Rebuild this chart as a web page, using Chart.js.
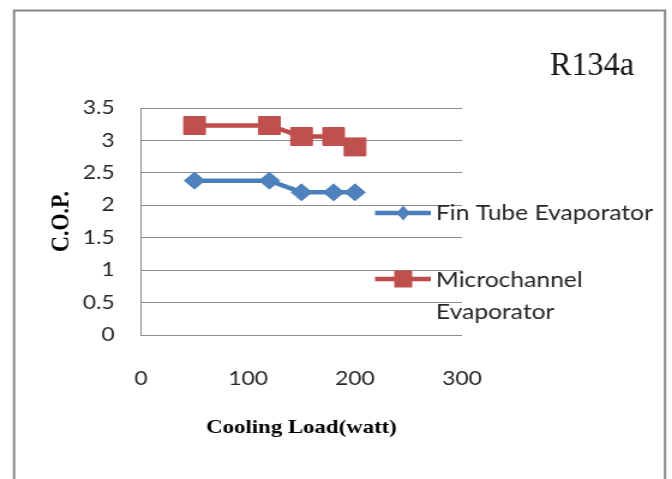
<!DOCTYPE html>
<html>
<head>
<meta charset="utf-8">
<script src="https://cdn.jsdelivr.net/npm/chart.js@4"></script>
<style>
html,body{margin:0;padding:0;background:#fff;overflow:hidden;}
#wrap{width:672px;height:479px;overflow:hidden;}
#c{transform:scaleX(1.2);transform-origin:0 0;display:block;}
</style>
</head>
<body>
<div id="wrap"><canvas id="c" width="560" height="479"></canvas></div>
<script>
// ---- data ----
const coolingLoad = [50, 120, 150, 180, 200];
const finTubeCOP = [2.38, 2.38, 2.2, 2.2, 2.2];
const microchannelCOP = [3.23, 3.23, 3.06, 3.06, 2.9];
const seriesLabels = ['Fin Tube Evaporator', 'Microchannel Evaporator'];
const legendLines = [['Fin Tube Evaporator'], ['Microchannel', 'Evaporator']];
const chartTitle = 'R134a';
const xTitle = 'Cooling Load(watt)';
const yTitle = 'C.O.P.';
const xRange = [0, 300, 100];
const yRange = [0, 3.5, 0.5];

const BLUE_LINE = '#4a7ebb', BLUE_FILL = '#4f81bd';
const RED_LINE = '#be4b48', RED_FILL = '#c0504d';
const GRID = '#8c8c8c';

const toPts = (xs, ys) => xs.map((x, i) => ({x, y: ys[i]}));

const extras = {
  id: 'extras',
  beforeDraw(chart) {
    const ctx = chart.ctx;
    ctx.save();
    ctx.fillStyle = '#fff';
    ctx.fillRect(0, 0, chart.width, chart.height);
    ctx.strokeStyle = '#878787';
    ctx.lineWidth = 2;
    ctx.strokeRect(11.7, 10.5, 542.5, 520);
    ctx.restore();
  },
  afterDraw(chart) {
    const ctx = chart.ctx;
    ctx.save();
    // title
    ctx.font = '34px "Liberation Serif", "Times New Roman", serif';
    ctx.fillStyle = '#111';
    ctx.textBaseline = 'alphabetic';
    const w = ctx.measureText(chartTitle).width;
    ctx.translate(458.3, 75);
    ctx.scale(70 / w, 1);
    ctx.fillText(chartTitle, 0, 0);
    ctx.restore();

    // legend
    ctx.save();
    const ds = chart.data.datasets;
    const rows = [{y: 213, base: [220]}, {y: 279, base: [286.7, 319.3]}];
    ds.forEach((d, i) => {
      const r = rows[i];
      ctx.strokeStyle = d.borderColor;
      ctx.lineWidth = 4.5;
      ctx.beginPath();
      ctx.moveTo(312.5, r.y);
      ctx.lineTo(359, r.y);
      ctx.stroke();
      ctx.fillStyle = d.pointBackgroundColor;
      ctx.beginPath();
      if (d.pointStyle === 'rectRot') {
        ctx.moveTo(336, r.y - 7.5);
        ctx.lineTo(341.5, r.y);
        ctx.lineTo(336, r.y + 7.5);
        ctx.lineTo(330.5, r.y);
        ctx.closePath();
      } else {
        ctx.rect(336 - 7.5, r.y - 8.5, 15, 17);
      }
      ctx.fill();
      ctx.fillStyle = '#262626';
      ctx.font = '20.5px Lato, "Open Sans", sans-serif';
      ctx.textBaseline = 'alphabetic';
      legendLines[i].forEach((t, k) => ctx.fillText(t, 363.3, r.base[k]));
    });
    ctx.restore();
  }
};

new Chart(document.getElementById('c'), {
  type: 'line',
  data: {
    datasets: [
      {
        label: seriesLabels[0],
        data: toPts(coolingLoad, finTubeCOP),
        borderColor: BLUE_LINE,
        backgroundColor: BLUE_FILL,
        pointBackgroundColor: BLUE_FILL,
        pointBorderColor: BLUE_FILL,
        pointStyle: 'rectRot',
        pointRadius: 8.5,
        pointBorderWidth: 1,
        borderWidth: 4.5,
        tension: 0
      },
      {
        label: seriesLabels[1],
        data: toPts(coolingLoad, microchannelCOP),
        borderColor: RED_LINE,
        backgroundColor: RED_FILL,
        pointBackgroundColor: RED_FILL,
        pointBorderColor: RED_FILL,
        pointStyle: 'rect',
        pointRadius: 12.7,
        pointBorderWidth: 1,
        borderWidth: 4.5,
        tension: 0
      }
    ]
  },
  options: {
    responsive: false,
    animation: false,
    devicePixelRatio: 1,
    layout: {padding: {left: 0, top: 108, right: 175, bottom: 0}},
    plugins: {legend: {display: false}, tooltip: {enabled: false}, title: {display: false}},
    scales: {
      x: {
        type: 'linear',
        min: xRange[0], max: xRange[1],
        afterFit(s) { s.height = 144; },
        grid: {display: false, drawTicks: false},
        border: {display: false},
        ticks: {stepSize: xRange[2], padding: 32, color: '#262626', font: {family: 'Lato', size: 19}, maxRotation: 0},
        title: {display: true, text: xTitle, color: '#000', font: {family: '"Liberation Serif", serif', size: 19, weight: 'bold'}, padding: {top: 0, bottom: 40}}
      },
      y: {
        min: yRange[0], max: yRange[1],
        afterFit(s) { s.width = 117.5; },
        grid: {color: GRID, lineWidth: 1, drawTicks: false},
        border: {display: true, color: GRID, width: 1},
        ticks: {stepSize: yRange[2], padding: 22, color: '#262626', font: {family: 'Lato', size: 19},
                callback: (v) => String(Number(v.toFixed(2)))},
        title: {display: true, text: yTitle, color: '#000', font: {family: '"Liberation Serif", serif', size: 22, weight: 'bold'}, padding: {top: 38, bottom: 0}}
      }
    }
  },
  plugins: [extras]
});
</script>
</body>
</html>
